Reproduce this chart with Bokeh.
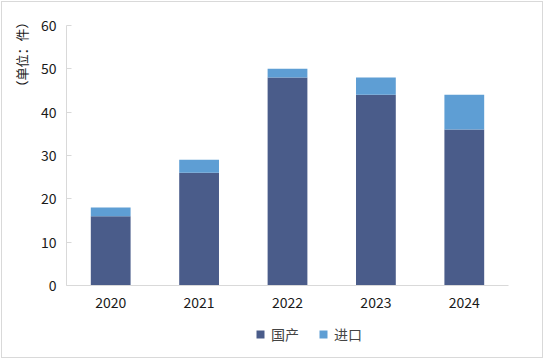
from bokeh.plotting import figure
from bokeh.layouts import column
from bokeh.models import ColumnDataSource, Legend, LegendItem, Title, Range1d, FactorRange
from bokeh.embed import file_html
from bokeh.resources import INLINE

years = ["2020", "2021", "2022", "2023", "2024"]
domestic = [16, 26, 48, 44, 36]
imported = [2, 3, 2, 4, 8]
series_names = ["国产", "进口"]
colors = ["#4A5C8A", "#5E9ED4"]

src = ColumnDataSource(dict(year=years, domestic=domestic, imported=imported))
font = "Noto Sans CJK SC"

p = figure(x_range=FactorRange(*years, range_padding=0), y_range=Range1d(0, 60),
           width=540, height=318, output_backend="svg", toolbar_location=None,
           min_border_left=62, min_border_right=34, min_border_top=23, min_border_bottom=35)

rs = p.vbar_stack(["domestic", "imported"], x="year", width=0.45, source=src,
                  color=colors, line_color=None)

p.xgrid.visible = False
p.ygrid.visible = False
p.outline_line_color = None

p.yaxis.ticker = [0, 10, 20, 30, 40, 50, 60]
for ax in (p.xaxis, p.yaxis):
    ax.axis_line_color = "#D9D9D9"
    ax.major_tick_line_color = "#D9D9D9"
    ax.minor_tick_line_color = None
    ax.major_label_text_font = font
    ax.major_label_text_font_size = "14px"
    ax.major_label_text_color = "#1A1A1A"
p.yaxis.major_tick_in = 5
p.yaxis.major_tick_out = 0
p.yaxis.major_label_standoff = 10
p.xaxis.major_tick_line_color = None
p.xaxis.major_label_standoff = 5

t = Title(text="（单位：件）", align="right", offset=-10, standoff=14,
          text_font=font, text_font_size="13px",
          text_font_style="normal", text_color="#1A1A1A")
p.add_layout(t, "left")

# legend strip below the chart
q = figure(x_range=p.x_range, y_range=Range1d(100, 101), width=540, height=37,
           output_backend="svg", toolbar_location=None,
           x_axis_location=None, y_axis_location=None,
           min_border_left=0, min_border_right=0, min_border_top=0, min_border_bottom=0)
q.xgrid.visible = False
q.ygrid.visible = False
q.outline_line_color = None
qs = q.vbar_stack(["domestic", "imported"], x="year", width=0.45, source=src,
                  color=colors, line_color=None)

legend = Legend(items=[LegendItem(label=series_names[0], renderers=[qs[0]]),
                       LegendItem(label=series_names[1], renderers=[qs[1]])],
                orientation="horizontal", location=(189, 13),
                glyph_width=10, glyph_height=10, label_text_font=font,
                label_text_font_size="14px", label_standoff=6, spacing=19,
                padding=0, margin=0,
                border_line_color=None, background_fill_alpha=0)
q.add_layout(legend, "center")

layout = column(p, q, spacing=0,
                styles={"border": "1px solid #D9D9D9", "margin-left": "1px", "margin-top": "1px"})

open("out.html", "w").write(file_html(layout, INLINE))
